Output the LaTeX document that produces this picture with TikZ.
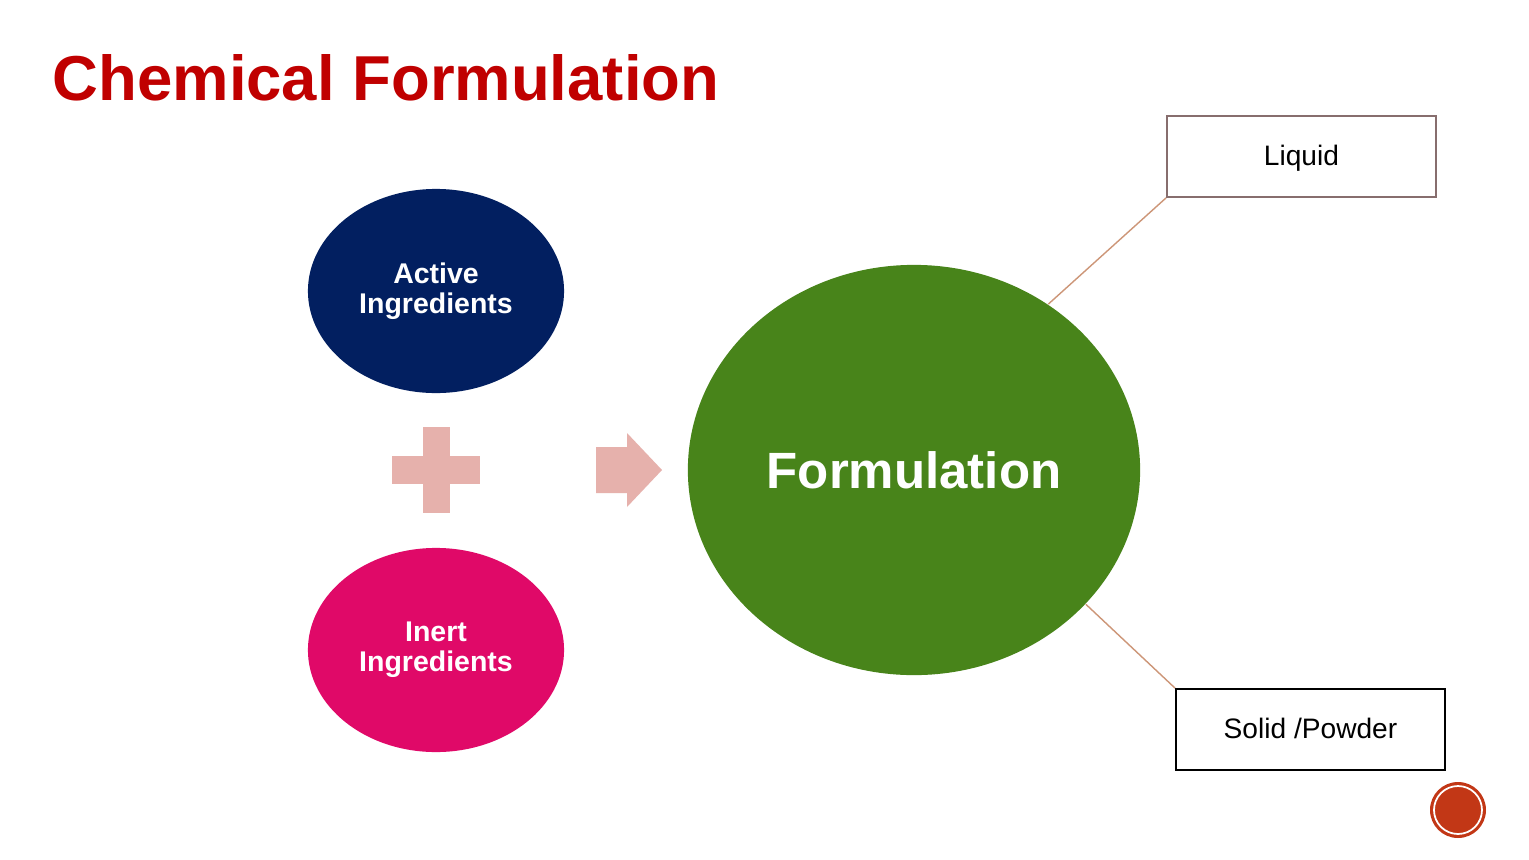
\documentclass[tikz,border=0pt]{standalone}
\usepackage{fontspec}
\setmainfont{Liberation Sans}
\usetikzlibrary{shapes.geometric,positioning,backgrounds}
\definecolor{titlered}{RGB}{192,0,0}
\definecolor{dkblue}{RGB}{2,31,96}
\definecolor{inertpink}{RGB}{224,9,104}
\definecolor{formgreen}{RGB}{72,132,26}
\definecolor{signpink}{RGB}{230,177,172}
\definecolor{linebrown}{RGB}{205,150,120}
\definecolor{boxgray}{RGB}{135,110,110}
\definecolor{dotred}{RGB}{194,55,22}

\begin{document}
\begin{tikzpicture}[
      x=0.01cm, y=-0.01cm,
      every node/.style={inner sep=0pt},
      blob/.style={ellipse, text=white, align=center,
                   font=\fontsize{8.1}{8.6}\selectfont\bfseries,
                   minimum width=2.56cm, minimum height=2.04cm},
      kind/.style={draw, line width=0.5pt, fill=white, align=center,
                   font=\fontsize{8}{9.6}\selectfont,
                   text height=0.2cm, text depth=0.02cm,
                   minimum width=2.69cm, minimum height=0.81cm},
      link/.style={linebrown, line width=0.4pt}
    ]
    \useasboundingbox[fill=white] (0,0) rectangle (1529,860);

    \node[anchor=base west, text=titlered,
          font=\fontsize{18.05}{21}\selectfont\bfseries] (title) at (52,100)
      {Chemical Formulation};

    \node[blob, fill=dkblue]    (active) at (436,291) {Active\\Ingredients};
    \node[blob, fill=inertpink] (inert)  at (436,650) {Inert\\Ingredients};

    % plus sign and arrow
    \fill[signpink] (423,427) rectangle (450,513);
    \fill[signpink] (392,456) rectangle (480,484);
    \fill[signpink] (596,447) -- (627,447) -- (627,433) -- (662,470)
                    -- (627,507) -- (627,493) -- (596,493) -- cycle;

    \node[ellipse, fill=formgreen, text=white,
          font=\fontsize{14.5}{18}\selectfont\bfseries,
          minimum width=4.52cm, minimum height=4.10cm] (form) at (914,470)
      {Formulation};

    \node[kind, draw=boxgray] (liquid) at (1301.5,156.5) {Liquid};
    \node[kind, draw=black]   (solid)  at (1310.5,729.5) {Solid /Powder};

    \draw[link] (form.51)  -- (liquid.south west);
    \draw[link] (form.-38) -- (solid.north west);

    % slide mark
    \fill[dotred] (1458,810) circle (28);
    \draw[white, line width=0.5pt] (1458,810) circle (24);
  \end{tikzpicture}
\end{document}
